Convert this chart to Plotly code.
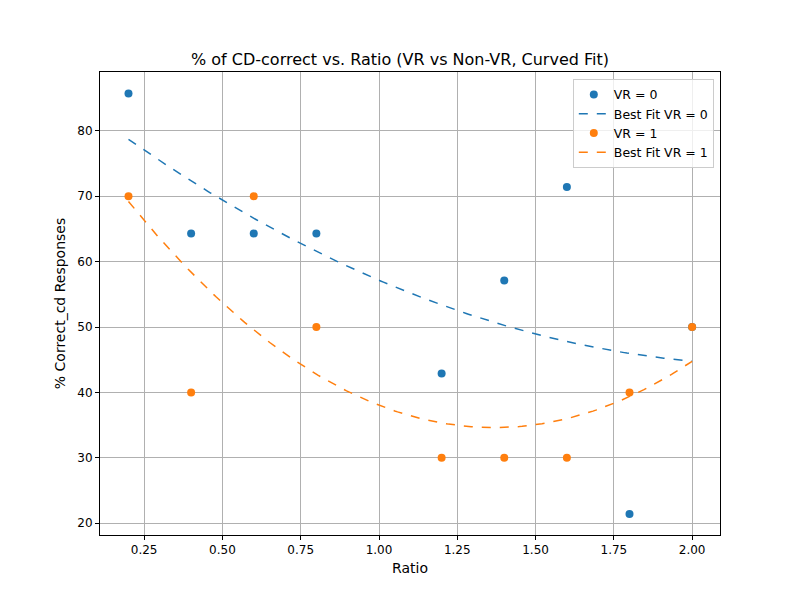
import numpy as np
import plotly.graph_objects as go

ratio = [0.2, 0.4, 0.6, 0.8, 1.2, 1.4, 1.6, 1.8, 2.0]
vr0_pct = [85.7, 64.3, 64.3, 64.3, 42.9, 57.1, 71.4, 21.4, 50.0]
vr1_pct = [70.0, 40.0, 70.0, 50.0, 30.0, 30.0, 30.0, 40.0, 50.0]

blue = '#1f77b4'
orange = '#ff7f0e'


def curve(x, y):
    # quadratic best fit, same as np.polyfit deg 2
    c = np.polyfit(x, y, 2)
    xs = np.linspace(min(x), max(x), 200)
    return xs, np.polyval(c, xs)


fig = go.Figure()
x0, y0 = curve(ratio, vr0_pct)
x1, y1 = curve(ratio, vr1_pct)
fig.add_trace(go.Scatter(x=ratio, y=vr0_pct, mode='markers', name='VR = 0',
                         marker=dict(color=blue, size=8)))
fig.add_trace(go.Scatter(x=x0, y=y0, mode='lines', name='Best Fit VR = 0',
                         line=dict(color=blue, dash='dash', width=1.5)))
fig.add_trace(go.Scatter(x=ratio, y=vr1_pct, mode='markers', name='VR = 1',
                         marker=dict(color=orange, size=8)))
fig.add_trace(go.Scatter(x=x1, y=y1, mode='lines', name='Best Fit VR = 1',
                         line=dict(color=orange, dash='dash', width=1.5)))

axis = dict(showline=True, mirror=True, linecolor='black', linewidth=1,
            showgrid=True, gridcolor='#b0b0b0', zeroline=False,
            ticks='outside', ticklen=4, tickcolor='black')

fig.update_layout(
    width=800, height=600,
    title=dict(text='% of CD-correct vs. Ratio (VR vs Non-VR, Curved Fit)',
               x=0.49, xanchor='center', y=0.905, yanchor='bottom',
               font=dict(size=16, color='black')),
    font=dict(family='DejaVu Sans', size=12, color='black'),
    plot_bgcolor='white', paper_bgcolor='white',
    margin=dict(l=92, r=88, t=64, b=73),
    xaxis=dict(axis, range=[0.109, 2.089], tickvals=[0.25, 0.5, 0.75, 1.0, 1.25, 1.5, 1.75, 2.0],
               tickformat='.2f', title=dict(text='Ratio', standoff=6)),
    yaxis=dict(axis, range=[18.2, 89.0], tickvals=[20, 30, 40, 50, 60, 70, 80],
               title=dict(text='% Correct_cd Responses', standoff=8)),
    legend=dict(x=0.99, y=0.985, xanchor='right', yanchor='top',
                bgcolor='rgba(255,255,255,0.8)', bordercolor='#cccccc', borderwidth=1,
                font=dict(size=12.5)),
)

fig.write_html("out.html")
